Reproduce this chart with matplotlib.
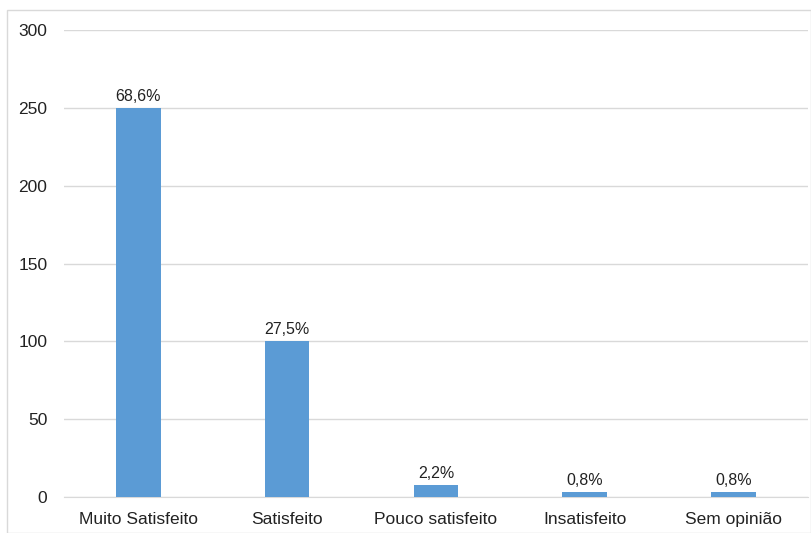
import matplotlib.pyplot as plt
from matplotlib.patches import Rectangle

categories = ['Muito Satisfeito', 'Satisfeito', 'Pouco satisfeito', 'Insatisfeito', 'Sem opinião']
counts = [250, 100, 8, 3, 3]
labels = ['68,6%', '27,5%', '2,2%', '0,8%', '0,8%']

plt.rcParams['font.family'] = ['Liberation Sans', 'DejaVu Sans']

fig = plt.figure(figsize=(8.11, 5.33), dpi=100)
ax = fig.add_axes([0.079, 0.0675, 0.917, 0.876])

x = range(len(categories))
bars = ax.bar(x, counts, width=0.3, color='#5b9bd5', zorder=3)
for b, lab in zip(bars, labels):
    ax.text(b.get_x() + b.get_width() / 2, b.get_height() + 2.5, lab,
            ha='center', va='bottom', fontsize=11.5, color='#222222')

ax.set_xlim(-0.5, len(categories) - 0.5)
ax.set_ylim(0, 300)
ax.set_yticks(range(0, 301, 50))
ax.set_xticks(list(x))
ax.set_xticklabels(categories)
ax.grid(axis='y', color='#d9d9d9', linewidth=1, zorder=0)
for s in ['top', 'right', 'left']:
    ax.spines[s].set_visible(False)
ax.spines['bottom'].set_color('#d9d9d9')
ax.tick_params(length=0, labelsize=12.5, colors='#222222')
ax.tick_params(axis='y', pad=12)
ax.tick_params(axis='x', pad=11)

fig.patches.append(Rectangle((7 / 811, 0), 1 - 7 / 811, 1 - 10 / 533,
                             transform=fig.transFigure, fill=False,
                             edgecolor='#d9d9d9', linewidth=1))

fig.savefig('out.png', dpi=100)
